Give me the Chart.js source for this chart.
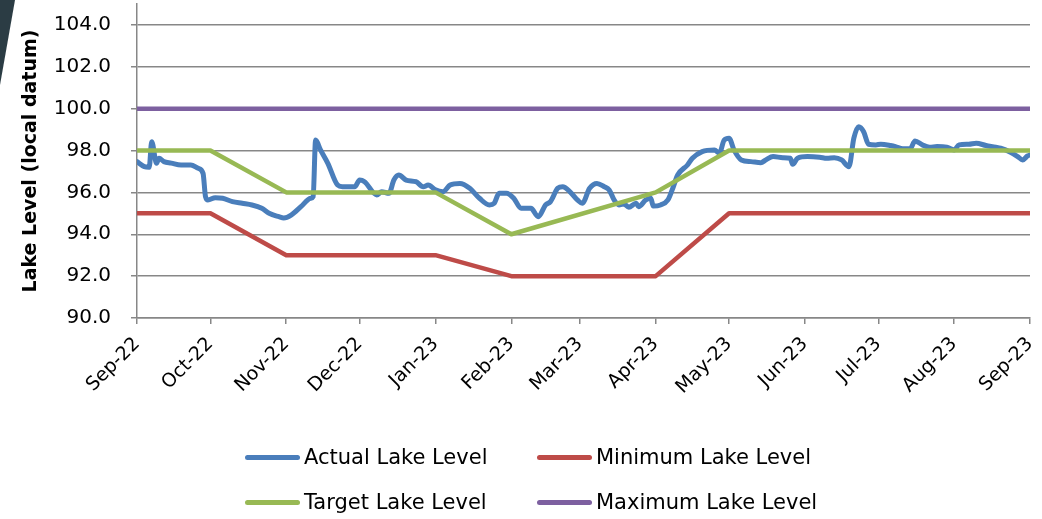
<!DOCTYPE html>
<html>
<head>
<meta charset="utf-8">
<title>Lake Level</title>
<script src="https://cdn.jsdelivr.net/npm/chart.js@4.4.1/dist/chart.umd.min.js"></script>
<style>
  body { margin: 0; background: #fff; }
  #wrap { position: relative; width: 1042px; height: 519px; overflow: hidden; }
  #corner {
    position: absolute; left: 0; top: 0; width: 18px; height: 90px;
    background: #2b3c44; clip-path: polygon(0 0, 15px 0, 0 85px);
  }
  .item {
    position: absolute; height: 28px; display: flex; align-items: center;
    font: 21px "DejaVu Sans", sans-serif; color: #000; white-space: nowrap;
  }
  .swatch { width: 55px; height: 5px; border-radius: 3px; margin-right: 4px; }
</style>
</head>
<body>
<div id="wrap">
  <canvas id="lakeChart" width="1042" height="519"></canvas>
  <div id="corner"></div>
  <div id="legend"></div>
</div>
<script>
// month ticks (days since 1 Sep 2022)
const monthLabels = ["Sep-22", "Oct-22", "Nov-22", "Dec-22", "Jan-23", "Feb-23", "Mar-23",
  "Apr-23", "May-23", "Jun-23", "Jul-23", "Aug-23", "Sep-23"];
const monthDays = [0, 30, 61, 91, 122, 153, 181, 212, 242, 273, 303, 334, 365];

const seriesNames = ["Actual Lake Level", "Minimum Lake Level", "Target Lake Level", "Maximum Lake Level"];
const seriesColors = ["#4a7ebb", "#be4b48", "#98b954", "#7d60a0"];

// actual level
const actualDays = [
  0, 3, 5, 6, 8, 9, 11, 14, 18, 22,
  25, 27, 28, 29, 32, 35, 39, 43, 47, 51,
  54, 58, 60, 63, 67, 71, 72, 73, 75, 78,
  82, 84, 89, 91, 93, 98, 100, 103, 105, 107,
  110, 114, 117, 119, 122, 125, 128, 132, 136, 140,
  144, 146, 148, 151, 154, 157, 161, 164, 167, 169,
  172, 174, 177, 180, 182, 185, 188, 191, 193, 195,
  197, 199, 201, 204, 205, 208, 210, 211, 214, 217,
  219, 221, 225, 227, 231, 236, 238, 240, 242, 244,
  247, 251, 255, 257, 260, 264, 267, 268, 270, 274,
  279, 282, 285, 288, 291, 293, 295, 297, 299, 302,
  304, 308, 310, 313, 316, 318, 321, 324, 327, 331,
  334, 336, 340, 343, 347, 351, 353, 357, 360, 362,
  364, 365
];
const actualLevels = [
  97.47, 97.23, 97.2, 98.42, 97.39, 97.63, 97.47, 97.4, 97.31, 97.31,
  97.15, 96.91, 95.8, 95.64, 95.75, 95.72, 95.56, 95.48, 95.4, 95.24,
  95.0, 94.84, 94.78, 94.92, 95.32, 95.72, 95.8, 98.5, 98.03, 97.39,
  96.35, 96.27, 96.27, 96.59, 96.51, 95.88, 96.03, 95.96, 96.59, 96.83,
  96.59, 96.51, 96.27, 96.35, 96.12, 96.03, 96.35, 96.43, 96.2, 95.72,
  95.4, 95.48, 95.96, 95.96, 95.72, 95.24, 95.24, 94.84, 95.4, 95.56,
  96.2, 96.27, 96.03, 95.64, 95.48, 96.2, 96.43, 96.27, 96.12, 95.64,
  95.4, 95.45, 95.29, 95.48, 95.32, 95.64, 95.72, 95.35, 95.4, 95.64,
  96.2, 96.83, 97.31, 97.63, 97.95, 98.03, 97.87, 98.5, 98.59, 98.03,
  97.55, 97.47, 97.42, 97.55, 97.71, 97.66, 97.63, 97.34, 97.63, 97.71,
  97.68, 97.63, 97.66, 97.55, 97.23, 98.59, 99.14, 98.9, 98.3, 98.27,
  98.3, 98.24, 98.19, 98.08, 98.08, 98.46, 98.27, 98.16, 98.19, 98.16,
  98.03, 98.27, 98.3, 98.35, 98.24, 98.16, 98.11, 97.92, 97.71, 97.55,
  97.74, 97.79
];

// operating rule curves
const ruleDays = [0, 30, 61, 122, 153, 212, 242, 365];
const minimumLevels = [95, 95, 93, 93, 92, 92, 95, 95];
const targetLevels = [98, 98, 96, 96, 94, 96, 98, 98];
const maximumLevels = [100, 100, 100, 100, 100, 100, 100, 100];

function toPoints(xs, ys) {
  return xs.map((x, i) => ({ x: x, y: ys[i] }));
}

const gridGrey = "#878787";

const ctx = document.getElementById("lakeChart").getContext("2d");
new Chart(ctx, {
  type: "line",
  data: {
    datasets: [
      {
        label: seriesNames[0],
        data: toPoints(actualDays, actualLevels),
        borderColor: seriesColors[0],
        borderWidth: 5,
        cubicInterpolationMode: "monotone",
        order: 1,
      },
      {
        label: seriesNames[1],
        data: toPoints(ruleDays, minimumLevels),
        borderColor: seriesColors[1],
        order: 2,
      },
      {
        label: seriesNames[2],
        data: toPoints(ruleDays, targetLevels),
        borderColor: seriesColors[2],
        order: 0,
      },
      {
        label: seriesNames[3],
        data: toPoints(ruleDays, maximumLevels),
        borderColor: seriesColors[3],
        order: 3,
      },
    ],
  },
  options: {
    responsive: false,
    animation: false,
    devicePixelRatio: 1,
    layout: { padding: { top: 4, right: 12, left: 0, bottom: 0 } },
    elements: {
      point: { radius: 0 },
      line: { borderWidth: 4.5, borderCapStyle: "round", borderJoinStyle: "round", fill: false },
    },
    plugins: {
      legend: { display: false },
      tooltip: { enabled: false },
    },
    scales: {
      x: {
        type: "linear",
        min: 0,
        max: 365,
        afterBuildTicks: (scale) => {
          scale.ticks = monthDays.map((d) => ({ value: d }));
        },
        afterFit: (scale) => {
          scale.height = 201;
          scale.paddingLeft = 0;
          scale.paddingRight = 0;
        },
        ticks: {
          autoSkip: false,
          minRotation: 45,
          maxRotation: 45,
          padding: 9,
          color: "#000",
          font: { family: "DejaVu Sans", size: 19 },
          callback: (value, index) => monthLabels[index],
        },
        grid: { drawOnChartArea: false, drawTicks: true, tickLength: 6, color: gridGrey, lineWidth: 1.5 },
        border: { color: gridGrey, width: 1.5 },
      },
      y: {
        min: 90,
        max: 105,
        afterFit: (scale) => {
          scale.width = 137;
          scale.paddingTop = 0;
          scale.paddingBottom = 0;
        },
        ticks: {
          stepSize: 2,
          includeBounds: false,
          padding: 20,
          color: "#000",
          font: { family: "DejaVu Sans", size: 20 },
          callback: (value) => value.toFixed(1),
        },
        grid: { color: gridGrey, lineWidth: 1.5, tickLength: 6 },
        border: { color: gridGrey, width: 1.5 },
        title: {
          display: true,
          text: "Lake Level (local datum)",
          color: "#000",
          font: { family: "DejaVu Sans", size: 19, weight: "bold" },
          padding: { top: 20, bottom: 0 },
        },
      },
    },
  },
});

// legend laid out in two columns like the original
const legendSpots = [
  { left: 245, top: 443 },
  { left: 537, top: 443 },
  { left: 245, top: 488 },
  { left: 537, top: 488 },
];
const legend = document.getElementById("legend");
seriesNames.forEach((name, i) => {
  const item = document.createElement("div");
  item.className = "item";
  item.style.left = legendSpots[i].left + "px";
  item.style.top = legendSpots[i].top + "px";
  const swatch = document.createElement("span");
  swatch.className = "swatch";
  swatch.style.background = seriesColors[i];
  item.appendChild(swatch);
  item.appendChild(document.createTextNode(name));
  legend.appendChild(item);
});
</script>
</body>
</html>
